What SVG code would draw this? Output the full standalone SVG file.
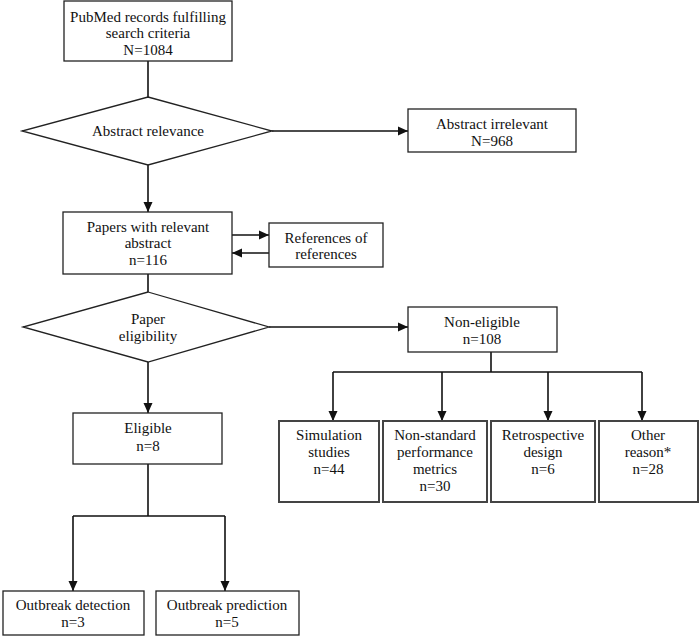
<svg xmlns="http://www.w3.org/2000/svg" width="700" height="637" viewBox="0 0 700 637">
<defs>
<style>
.b{fill:#fff;stroke:#222;stroke-width:1.3}
.bt{fill:#fff;stroke:#444;stroke-width:2}
.c{fill:none;stroke:#111;stroke-width:1.6}
text{font-family:"Liberation Serif","Times New Roman",serif;font-size:15px;fill:#111;text-anchor:middle;dominant-baseline:central}
</style>
<marker id="ah" markerUnits="userSpaceOnUse" markerWidth="10" markerHeight="10" viewBox="0 0 10 10" refX="10" refY="5" orient="auto">
<path d="M0,0.5 L10,5 L0,9.5 Z" fill="#111"/>
</marker>
</defs>
<rect width="700" height="637" fill="#fff"/>
<g id="connectors">
<line class="c" x1="148" y1="61" x2="148" y2="97"/>
<line class="c" x1="148" y1="165" x2="148" y2="212" marker-end="url(#ah)"/>
<line class="c" x1="272" y1="131" x2="408" y2="131" marker-end="url(#ah)"/>
<line class="c" x1="232" y1="235" x2="269" y2="235" marker-end="url(#ah)"/>
<line class="c" x1="269" y1="253" x2="232" y2="253" marker-end="url(#ah)"/>
<line class="c" x1="148" y1="274" x2="148" y2="292"/>
<line class="c" x1="148" y1="362" x2="148" y2="413" marker-end="url(#ah)"/>
<line class="c" x1="269" y1="327" x2="408" y2="327" marker-end="url(#ah)"/>
<path class="c" d="M491,352 V372 M333,372 H642"/>
<line class="c" x1="333" y1="372" x2="333" y2="421" marker-end="url(#ah)"/>
<line class="c" x1="442" y1="372" x2="442" y2="421" marker-end="url(#ah)"/>
<line class="c" x1="548" y1="372" x2="548" y2="421" marker-end="url(#ah)"/>
<line class="c" x1="642" y1="372" x2="642" y2="421" marker-end="url(#ah)"/>
<path class="c" d="M148,464 V516 M73,516 H225"/>
<line class="c" x1="73" y1="516" x2="73" y2="591" marker-end="url(#ah)"/>
<line class="c" x1="225" y1="516" x2="225" y2="591" marker-end="url(#ah)"/>
</g>
<g id="pubmed"><rect class="b" x="64" y="1" width="168" height="60"/>
<text x="148" y="17">PubMed records fulfilling</text><text x="148" y="33">search criteria</text><text x="148" y="50">N=1084</text></g>
<g id="abstract-relevance"><polygon class="b" points="148,97 272,131 148,165 22,131"/>
<text x="148" y="131">Abstract relevance</text></g>
<g id="abstract-irrelevant"><rect class="b" x="408" y="109" width="168" height="43"/>
<text x="492" y="124">Abstract irrelevant</text><text x="492" y="141">N=968</text></g>
<g id="papers-relevant"><rect class="b" x="63" y="212" width="169" height="62"/>
<text x="148" y="227">Papers with relevant</text><text x="148" y="243">abstract</text><text x="148" y="260">n=116</text></g>
<g id="refs"><rect class="b" x="269" y="223" width="114" height="44"/>
<text x="326" y="238">References of</text><text x="326" y="254">references</text></g>
<g id="paper-eligibility"><polygon class="b" points="148,292 269,327 148,362 23,327"/>
<text x="148" y="319">Paper</text><text x="148" y="336">eligibility</text></g>
<g id="non-eligible"><rect class="b" x="408" y="307" width="149" height="45"/>
<text x="482" y="322">Non-eligible</text><text x="482" y="339">n=108</text></g>
<g id="eligible"><rect class="b" x="73" y="413" width="149" height="51"/>
<text x="148" y="428">Eligible</text><text x="148" y="446">n=8</text></g>
<g id="simulation"><rect class="bt" x="279" y="421" width="100" height="81"/>
<text x="329" y="435">Simulation</text><text x="329" y="452">studies</text><text x="329" y="469">n=44</text></g>
<g id="nonstandard"><rect class="bt" x="383" y="421" width="104" height="81"/>
<text x="435" y="435">Non-standard</text><text x="435" y="452">performance</text><text x="435" y="469">metrics</text><text x="435" y="486">n=30</text></g>
<g id="retrospective"><rect class="bt" x="491" y="421" width="104" height="81"/>
<text x="543" y="435">Retrospective</text><text x="543" y="452">design</text><text x="543" y="469">n=6</text></g>
<g id="other"><rect class="bt" x="599" y="421" width="99" height="81"/>
<text x="648" y="435">Other</text><text x="648" y="452">reason*</text><text x="648" y="469">n=28</text></g>
<g id="detection"><rect class="b" x="3" y="591" width="141" height="44"/>
<text x="73" y="605">Outbreak detection</text><text x="73" y="622">n=3</text></g>
<g id="prediction"><rect class="b" x="156" y="591" width="143" height="44"/>
<text x="227" y="605">Outbreak prediction</text><text x="227" y="622">n=5</text></g>
</svg>
